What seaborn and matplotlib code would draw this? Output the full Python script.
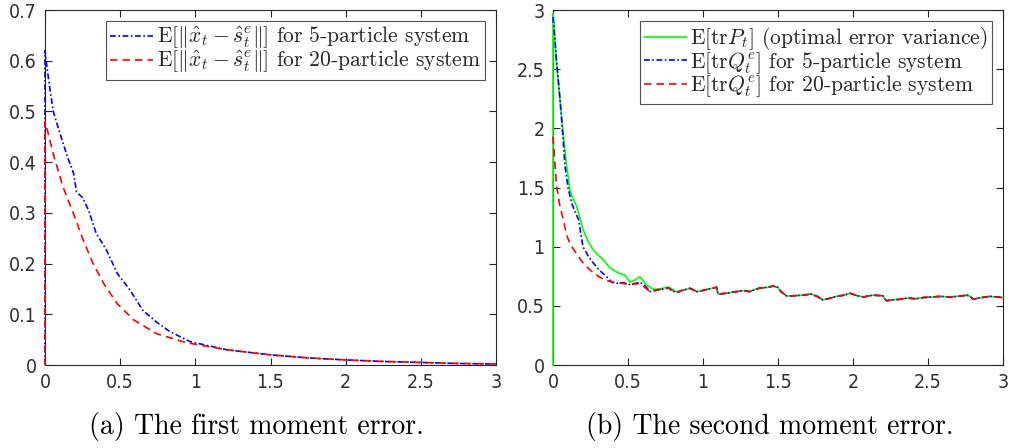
import numpy as np
import pandas as pd
import matplotlib
matplotlib.use("Agg")
import matplotlib.pyplot as plt
import seaborn as sns

# ---------------- data ----------------
# (a) first moment error
t_a5 = [0, 0, 0.01, 0.03, 0.055, 0.1, 0.15, 0.19, 0.21, 0.25, 0.29, 0.34, 0.41, 0.48,
        0.565, 0.65, 0.74, 0.83, 0.965, 1.21, 1.5, 1.75, 2.0, 2.25, 2.5, 2.75, 3.0]
y_a5 = [0, 0.62, 0.595, 0.55, 0.5, 0.456, 0.41, 0.378, 0.341, 0.33, 0.305, 0.26,
        0.226, 0.181, 0.148, 0.108, 0.085, 0.066, 0.046, 0.03, 0.02, 0.014, 0.01,
        0.007, 0.005, 0.003, 0.002]
t_a20 = [0, 0, 0.01, 0.055, 0.12, 0.19, 0.255, 0.32, 0.39, 0.48, 0.59, 0.74, 0.94,
         1.21, 1.5, 1.75, 2.0, 2.25, 2.5, 2.75, 3.0]
y_a20 = [0, 0.48, 0.47, 0.416, 0.351, 0.298, 0.246, 0.2, 0.161, 0.121, 0.089, 0.062,
         0.044, 0.03, 0.02, 0.014, 0.01, 0.007, 0.005, 0.003, 0.002]

# (b) second moment error : shared tail where all three curves coincide
t_tail = [0.86, 0.913, 0.96, 1.0, 1.05, 1.09, 1.1, 1.15, 1.224, 1.27, 1.31, 1.35,
          1.38, 1.42, 1.469, 1.5, 1.52, 1.558, 1.6, 1.67, 1.72, 1.76, 1.80, 1.85,
          1.89, 1.94, 1.98, 2.03, 2.07, 2.13, 2.2, 2.21, 2.224, 2.26, 2.31, 2.36,
          2.42, 2.47, 2.53, 2.58, 2.64, 2.7, 2.76, 2.78, 2.8, 2.86, 2.91, 2.96, 3.0]
y_tail = [0.63, 0.648, 0.62, 0.63, 0.645, 0.657, 0.60, 0.605, 0.62, 0.63, 0.62,
          0.64, 0.65, 0.655, 0.667, 0.655, 0.62, 0.583, 0.585, 0.59, 0.6, 0.58,
          0.55, 0.565, 0.58, 0.59, 0.606, 0.585, 0.575, 0.59, 0.585, 0.56, 0.543,
          0.55, 0.555, 0.565, 0.56, 0.57, 0.575, 0.58, 0.575, 0.58, 0.59, 0.58,
          0.556, 0.57, 0.58, 0.575, 0.57]

t_bP = [0, 0, 0.005, 0.02, 0.047, 0.07, 0.091, 0.113, 0.135, 0.158, 0.18, 0.202,
        0.235, 0.27, 0.3, 0.335, 0.38, 0.44, 0.48, 0.513, 0.55, 0.58, 0.62, 0.67,
        0.72, 0.77, 0.82]
y_bP = [0, 2.97, 2.9, 2.6, 2.24, 1.93, 1.68, 1.48, 1.40, 1.34, 1.24, 1.14, 1.04,
        0.97, 0.93, 0.89, 0.82, 0.775, 0.76, 0.70, 0.72, 0.746, 0.68, 0.64, 0.645,
        0.66, 0.62]
t_b5 = [0, 0.01, 0.025, 0.047, 0.065, 0.08, 0.1, 0.124, 0.145, 0.17, 0.2, 0.235,
        0.27, 0.31, 0.358, 0.39, 0.42, 0.47, 0.51, 0.55, 0.58, 0.62, 0.646, 0.7,
        0.77, 0.82]
y_b5 = [2.94, 2.8, 2.55, 2.24, 1.95, 1.68, 1.5, 1.37, 1.3, 1.23, 1.0, 0.92, 0.86,
        0.8, 0.746, 0.7, 0.69, 0.695, 0.68, 0.69, 0.70, 0.66, 0.62, 0.635, 0.65, 0.61]
t_b20 = [0, 0.024, 0.045, 0.069, 0.09, 0.113, 0.135, 0.158, 0.19, 0.224, 0.26,
         0.29, 0.34, 0.40, 0.46, 0.52, 0.58, 0.646, 0.7, 0.77, 0.82]
y_b20 = [1.93, 1.51, 1.35, 1.23, 1.1, 1.03, 0.98, 0.94, 0.88, 0.83, 0.79, 0.76,
         0.72, 0.70, 0.69, 0.68, 0.69, 0.62, 0.635, 0.65, 0.61]

x_ticks = [0, 0.5, 1, 1.5, 2, 2.5, 3]
x_ticklabels = ["0", "0.5", "1", "1.5", "2", "2.5", "3"]
ya_ticks = [0, 0.1, 0.2, 0.3, 0.4, 0.5, 0.6, 0.7]
ya_ticklabels = ["0", "0.1", "0.2", "0.3", "0.4", "0.5", "0.6", "0.7"]
yb_ticks = [0, 0.5, 1, 1.5, 2, 2.5, 3]
yb_ticklabels = ["0", "0.5", "1", "1.5", "2", "2.5", "3"]

lab_a5 = r"$\mathrm{E}[\|\hat{x}_t-\hat{s}^e_t\|]$ for 5-particle system"
lab_a20 = r"$\mathrm{E}[\|\hat{x}_t-\hat{s}^e_t\|]$ for 20-particle system"
lab_bP = r"$\mathrm{E}[\mathrm{tr}P_t]$ (optimal error variance)"
lab_b5 = r"$\mathrm{E}[\mathrm{tr}Q^e_t]$ for 5-particle system"
lab_b20 = r"$\mathrm{E}[\mathrm{tr}Q^e_t]$ for 20-particle system"
cap_a = "(a) The first moment error."
cap_b = "(b) The second moment error."

# ---------------- style ----------------
sns.set_theme(style="white")
plt.rcParams["font.family"] = ["Liberation Sans Narrow", "DejaVu Sans"]
plt.rcParams["font.stretch"] = "condensed"
plt.rcParams["mathtext.fontset"] = "cm"
plt.rcParams["axes.unicode_minus"] = False

fig = plt.figure(figsize=(10.1, 4.48), dpi=100)
axA = fig.add_axes([45 / 1010, 83 / 448, 451 / 1010, 355 / 448])
axB = fig.add_axes([553 / 1010, 83 / 448, 450 / 1010, 355 / 448])

BLUE, RED, GREEN = (0, 0, 1), (1, 0, 0), (0, 1, 0)
LW = 1.2
DASHDOT = (0, (3.5, 1.5, 1, 1.5))
DASHED = (0, (4.5, 3))


def draw(ax, t, y, color, ls, label):
    sns.lineplot(x=np.asarray(t, float), y=np.asarray(y, float), ax=ax,
                 estimator=None, sort=False, color=color, linestyle=ls,
                 linewidth=LW, label=label, clip_on=False, zorder=3)


draw(axA, t_a5, y_a5, BLUE, DASHDOT, lab_a5)
draw(axA, t_a20, y_a20, RED, DASHED, lab_a20)

draw(axB, t_bP + t_tail, y_bP + y_tail, GREEN, "-", lab_bP)
draw(axB, t_b5 + t_tail, y_b5 + y_tail, BLUE, DASHDOT, lab_b5)
draw(axB, t_b20 + t_tail, y_b20 + y_tail, RED, DASHED, lab_b20)

spine_col = "#262626"
for ax, yt, ytl, ylim in [(axA, ya_ticks, ya_ticklabels, (0, 0.7)),
                          (axB, yb_ticks, yb_ticklabels, (0, 3))]:
    ax.set_xlim(0, 3)
    ax.set_ylim(*ylim)
    ax.set_xticks(x_ticks)
    ax.set_xticklabels(x_ticklabels)
    ax.set_yticks(yt)
    ax.set_yticklabels(ytl)
    ax.tick_params(direction="in", length=5, width=0.8, colors=spine_col,
                   labelsize=14, labelcolor="#303030", top=True, right=True,
                   bottom=True, left=True, pad=6)
    for s in ax.spines.values():
        s.set_visible(True)
        s.set_color(spine_col)
        s.set_linewidth(0.8)
        s.set_zorder(2)
    ax.set_xlabel("")
    ax.set_ylabel("")
    ax.set_facecolor("white")
    ax.grid(False)

legkw = dict(loc="upper right", prop={"family": "cmr10", "size": 15.5},
             frameon=True, fancybox=False, edgecolor="#262626",
             handlelength=2.0, handletextpad=0.15, borderpad=0.2,
             labelspacing=-0.1, borderaxespad=0.5)
legA = axA.legend(**legkw)
legB = axB.legend(**legkw)
for leg in (legA, legB):
    leg.get_frame().set_linewidth(0.8)
    leg.set_zorder(5)

fig.text(256 / 1010, 1 - 434 / 448, cap_a, ha="center", va="baseline",
         family="cmr10", fontsize=20, color="black")
fig.text(770 / 1010, 1 - 434 / 448, cap_b, ha="center", va="baseline",
         family="cmr10", fontsize=20, color="black")

fig.savefig("out.png", dpi=100, facecolor="white")
